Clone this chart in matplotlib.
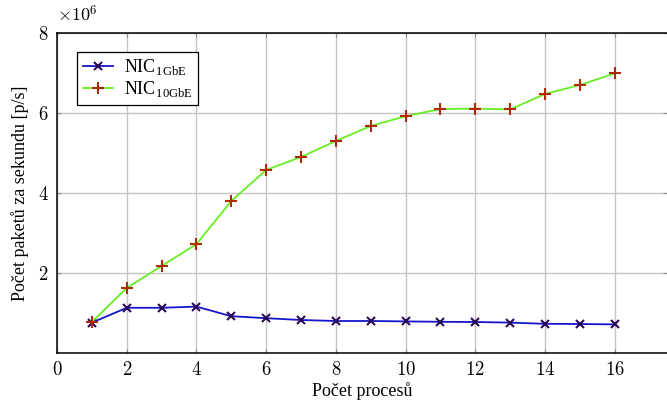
import matplotlib
matplotlib.use("Agg")
import matplotlib.pyplot as plt
from matplotlib.ticker import FuncFormatter

plt.rcParams['font.family'] = ['Liberation Serif', 'DejaVu Serif']
plt.rcParams['mathtext.fontset'] = 'cm'

procesy = [1, 2, 3, 4, 5, 6, 7, 8, 9, 10, 11, 12, 13, 14, 15, 16]
nic_1gbe = [0.76, 1.13, 1.13, 1.16, 0.92, 0.87, 0.825, 0.80, 0.80, 0.79,
            0.78, 0.775, 0.76, 0.73, 0.725, 0.715]          # x 10^6 p/s
nic_10gbe = [0.775, 1.625, 2.175, 2.72, 3.80, 4.575, 4.90, 5.30, 5.675, 5.92,
             6.10, 6.11, 6.09, 6.475, 6.70, 6.99]          # x 10^6 p/s
xticks = [0, 2, 4, 6, 8, 10, 12, 14, 16]
yticks = [2, 4, 6, 8]

fig = plt.figure(figsize=(6.67, 4.0), dpi=100)
ax = fig.add_axes([57/667, 1-353/400, 1-57/667, 320/400])

ax.plot(procesy, nic_1gbe, color='#1515cc', lw=1.3, marker='x', ms=6,
        mew=1.5, mec='#2a0a55', label=r'NIC$_{\mathregular{1GbE}}$')
ax.plot(procesy, nic_10gbe, color='#66ee22', lw=1.3, marker='+', ms=9,
        mew=1.5, mec='#b02a05', label=r'NIC$_{\mathregular{10GbE}}$')

ax.set_xlim(0, 17.5)
ax.set_ylim(0, 8)
ax.set_xticks(xticks)
ax.set_yticks(yticks)
fmt = FuncFormatter(lambda v, p: r'$%d$' % v)
ax.xaxis.set_major_formatter(fmt)
ax.yaxis.set_major_formatter(fmt)
ax.tick_params(direction='in', length=3, color='#888888', labelsize=13.5,
               top=True, right=True, pad=6)
ax.grid(True, color='#c4c4c4', lw=1)
ax.set_axisbelow(True)
ax.spines['right'].set_visible(False)
for s in ['left', 'bottom', 'top']:
    ax.spines[s].set_linewidth(1.1)

ax.text(0.0, 1.025, r'$\times10^{6}$', transform=ax.transAxes, fontsize=13,
        ha='left', va='bottom')

ax.set_xlabel('Počet procesů', fontsize=13, labelpad=2)
ax.set_ylabel('Počet paketů za sekundu [p/s]', fontsize=13, labelpad=6)

leg = ax.legend(loc='upper left', bbox_to_anchor=(0.033, 0.94), borderaxespad=0,
                fontsize=13, fancybox=False, framealpha=1, edgecolor='black',
                handlelength=1.7, handletextpad=0.6, borderpad=0.3,
                labelspacing=0.1)
leg.get_frame().set_linewidth(0.9)

fig.savefig('out.png', dpi=100)
